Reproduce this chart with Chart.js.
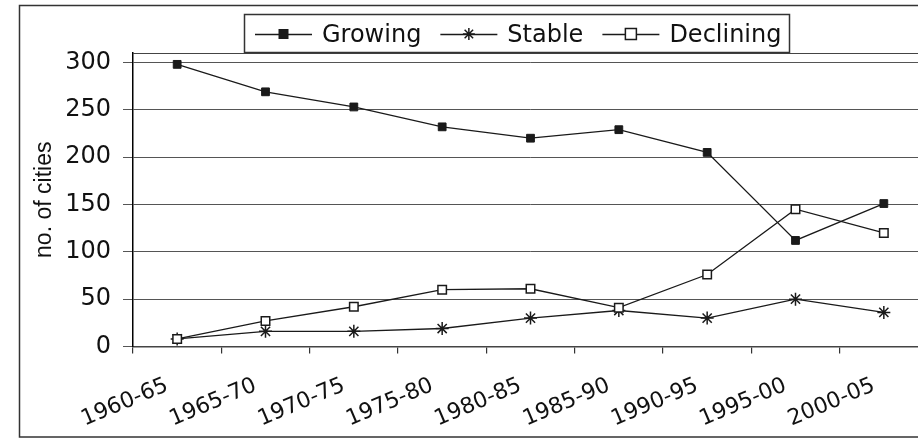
<!DOCTYPE html>
<html>
<head>
<meta charset="utf-8">
<script src="https://cdn.jsdelivr.net/npm/chart.js@4.4.1/dist/chart.umd.min.js"></script>
<style>
  html, body { margin: 0; padding: 0; background: #fff; overflow: hidden; width: 918px; height: 439px; }
  #c { position: absolute; left: 0; top: 0; }
</style>
</head>
<body>
<canvas id="c" width="936" height="439"></canvas>
<script>
const categories = ['1960-65', '1965-70', '1970-75', '1975-80', '1980-85', '1985-90', '1990-95', '1995-00', '2000-05'];
const growing   = [298, 269, 253, 232, 220, 229, 205, 112, 151];
const stable    = [8, 16, 16, 19, 30, 38, 30, 50, 36];
const declining = [8, 27, 42, 60, 61, 41, 76, 145, 120];
const seriesNames = ['Growing', 'Stable', 'Declining'];
const yTitle = 'no. of cities';

const INK = '#1a1a1a';

function drawMarker(ctx, kind, x, y) {
  ctx.save();
  ctx.strokeStyle = INK;
  ctx.lineWidth = 1.5;
  if (kind === 'filled') {
    ctx.fillStyle = INK;
    ctx.fillRect(x - 5, y - 5, 10, 10);
  } else if (kind === 'open') {
    ctx.fillStyle = '#fff';
    ctx.fillRect(x - 5.5, y - 5.5, 11, 11);
    ctx.strokeRect(x - 5.5, y - 5.5, 11, 11);
  } else {
    const r = 6;
    ctx.beginPath();
    ctx.moveTo(x - r, y); ctx.lineTo(x + r, y);
    ctx.moveTo(x, y - r); ctx.lineTo(x, y + r);
    const d = r * 0.7071;
    ctx.moveTo(x - d, y - d); ctx.lineTo(x + d, y + d);
    ctx.moveTo(x - d, y + d); ctx.lineTo(x + d, y - d);
    ctx.stroke();
  }
  ctx.restore();
}

const markerKinds = ['filled', 'star', 'open'];

const framePlugin = {
  id: 'framePlugin',
  afterDraw(chart) {
    const ctx = chart.ctx;
    const a = chart.chartArea;
    ctx.save();
    // outer frame
    ctx.strokeStyle = '#333';
    ctx.lineWidth = 1.5;
    ctx.strokeRect(19.5, 5.5, chart.width + 20, 431.5);
    // plot top border
    ctx.strokeStyle = '#444';
    ctx.lineWidth = 1.2;
    ctx.beginPath();
    ctx.moveTo(a.left, a.top + 0.5);
    ctx.lineTo(a.right, a.top + 0.5);
    ctx.stroke();

    // legend
    const boxL = 244.5, boxT = 14.5, boxR = 789.5, boxB = 52.5;
    ctx.fillStyle = '#fff';
    ctx.fillRect(boxL, boxT, boxR - boxL, boxB - boxT);
    ctx.strokeStyle = '#333';
    ctx.lineWidth = 1.5;
    ctx.strokeRect(boxL, boxT, boxR - boxL, boxB - boxT);
    ctx.font = '24px "DejaVu Sans"';
    ctx.textBaseline = 'alphabetic';
    ctx.textAlign = 'left';
    const cy = 34;
    let x = 255;
    chart.data.datasets.forEach((ds, i) => {
      ctx.strokeStyle = INK;
      ctx.lineWidth = 1.3;
      ctx.beginPath();
      ctx.moveTo(x, cy + 0.5);
      ctx.lineTo(x + 57, cy + 0.5);
      ctx.stroke();
      drawMarker(ctx, markerKinds[i], x + 28.5, cy);
      x += 57 + 10;
      ctx.fillStyle = '#111';
      ctx.fillText(ds.label, x, 42);
      x += ctx.measureText(ds.label).width + 19;
    });
    ctx.restore();
  }
};

const ctx = document.getElementById('c').getContext('2d');
new Chart(ctx, {
  type: 'line',
  data: {
    labels: categories,
    datasets: [
      {
        label: seriesNames[0], data: growing, order: 1,
        borderColor: INK, borderWidth: 1.3, tension: 0,
        pointStyle: 'rect', pointRadius: 5.5, pointBackgroundColor: INK,
        pointBorderColor: INK, pointBorderWidth: 1
      },
      {
        label: seriesNames[1], data: stable, order: 3,
        borderColor: INK, borderWidth: 1.3, tension: 0,
        pointStyle: 'star', pointRadius: 6.5, pointBackgroundColor: INK,
        pointBorderColor: INK, pointBorderWidth: 1.5
      },
      {
        label: seriesNames[2], data: declining, order: 2,
        borderColor: INK, borderWidth: 1.3, tension: 0,
        pointStyle: 'rect', pointRadius: 6, pointBackgroundColor: '#fff',
        pointBorderColor: INK, pointBorderWidth: 1.5
      }
    ]
  },
  options: {
    responsive: false,
    animation: false,
    devicePixelRatio: 1,
    layout: { padding: { left: 20, right: 4, top: 53, bottom: 0 } },
    plugins: { legend: { display: false }, tooltip: { enabled: false } },
    scales: {
      x: {
        type: 'category',
        offset: true,
        afterFit(scale) { scale.height = 92.5; },
        grid: { display: true, drawOnChartArea: false, drawTicks: true, tickLength: 7, color: '#333', lineWidth: 1.2, offset: true },
        border: { display: true, color: '#444', width: 1.5 },
        ticks: {
          font: { family: 'DejaVu Sans', size: 22 },
          color: '#111',
          minRotation: 23, maxRotation: 23,
          padding: 19,
          labelOffset: -10,
          autoSkip: false
        }
      },
      y: {
        min: 0, max: 310,
        afterFit(scale) { scale.width = 113; },
        grid: { color: '#555', lineWidth: 1, tickLength: 10 },
        border: { display: true, color: '#000', width: 1.5 },
        ticks: {
          stepSize: 50,
          includeBounds: false,
          font: { family: 'DejaVu Sans', size: 24 },
          color: '#111',
          padding: 12
        },
        title: {
          display: true,
          text: yTitle,
          font: { family: 'Liberation Sans', size: 23 },
          color: '#111',
          padding: { top: 11, bottom: 4 }
        }
      }
    }
  },
  plugins: [framePlugin]
});
</script>
</body>
</html>
